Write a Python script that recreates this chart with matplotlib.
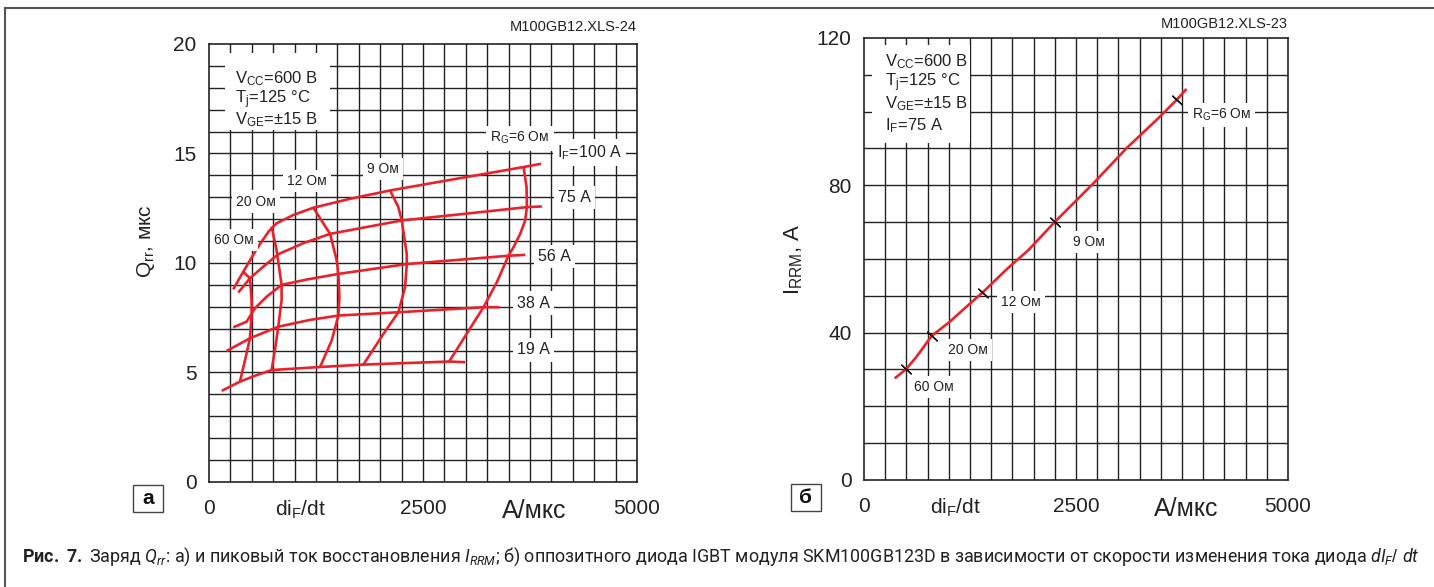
import matplotlib
matplotlib.use("Agg")
import matplotlib.pyplot as plt
import numpy as np
from matplotlib import font_manager
from matplotlib.patches import Rectangle
from matplotlib.lines import Line2D

# ---- data ----
# a) Qrr vs diF/dt, constant IF curves
if100_x = [284, 401, 576, 700, 790, 985, 1218, 1648, 2116, 2900, 3675, 3881]
if100_y = [8.80, 9.60, 10.75, 11.45, 11.81, 12.19, 12.52, 12.93, 13.31, 13.85, 14.38, 14.53]
if75_x = [343, 479, 634, 810, 1100, 1415, 2252, 3000, 3714, 3889]
if75_y = [8.65, 9.30, 9.83, 10.40, 10.90, 11.33, 11.94, 12.25, 12.55, 12.58]
if56_x = [284, 440, 537, 674, 849, 1150, 1512, 2311, 3499, 3694]
if56_y = [7.06, 7.32, 7.93, 8.46, 9.00, 9.25, 9.50, 9.95, 10.33, 10.37]
if38_x = [206, 479, 810, 1180, 1512, 2213, 3207, 3394]
if38_y = [5.98, 6.56, 7.09, 7.40, 7.60, 7.75, 7.98, 7.98]
if19_x = [148, 362, 537, 732, 1297, 1804, 2806, 2993]
if19_y = [4.16, 4.58, 4.85, 5.11, 5.25, 5.36, 5.50, 5.47]

# constant RG curves
rg6_x = [3675, 3710, 3714, 3694, 3636, 3558, 3499, 3363, 3207, 2806]
rg6_y = [14.38, 13.47, 12.55, 11.94, 11.33, 10.72, 10.33, 9.12, 7.98, 5.50]
rg9_x = [2116, 2213, 2252, 2311, 2311, 2291, 2213, 2038, 1804]
rg9_y = [13.31, 12.55, 11.94, 10.41, 9.95, 8.89, 7.75, 6.76, 5.36]
rg12_x = [1220, 1415, 1493, 1512, 1524, 1512, 1434, 1298]
rg12_y = [12.52, 11.33, 10.11, 9.50, 8.43, 7.60, 6.46, 5.25]
rg20_x = [732, 790, 849, 849, 810, 771, 732]
rg20_y = [11.66, 10.59, 9.00, 8.31, 7.09, 6.03, 5.11]
rg60_x = [401, 479, 498, 498, 479, 440, 362]
rg60_y = [9.60, 9.30, 8.31, 7.62, 6.56, 5.87, 4.58]

# b) IRRM vs diF/dt
irrm_x = [374, 495, 621, 798, 1014, 1211, 1399, 1682, 1938, 2252, 2704, 3097, 3470, 3687, 3793]
irrm_y = [27.8, 30.05, 33.5, 39.1, 43.0, 47.1, 50.9, 57.2, 62.4, 70.1, 80.5, 90.1, 98.2, 103.2, 105.9]
rg_mark_x = [495, 798, 1399, 2252, 3687]
rg_mark_y = [30.05, 39.1, 50.9, 70.1, 103.2]

x_ticks = [0, 1075, 2500, 3800, 5000]
x_ticklabels = ["0", "di$_\\mathrm{F}$/dt", "2500", "A/мкс", "5000"]

RED = "#e8212b"
GRID = "#222222"

names = {f.name for f in font_manager.fontManager.ttflist}
cap_font = "Liberation Sans Narrow" if "Liberation Sans Narrow" in names else "Roboto"

plt.rcParams["font.family"] = ["Liberation Sans", "DejaVu Sans"]
plt.rcParams["mathtext.fontset"] = "custom"
plt.rcParams["mathtext.rm"] = "Liberation Sans"
plt.rcParams["mathtext.it"] = cap_font + ":italic"
plt.rcParams["mathtext.bf"] = cap_font + ":bold"


def draw_grid(ax, xstep, xmax, ystep, ymax):
    for v in np.arange(xstep, xmax, xstep):
        ax.axvline(v, color=GRID, lw=1.0, zorder=1)
    for v in np.arange(ystep, ymax, ystep):
        ax.axhline(v, color=GRID, lw=1.0, zorder=1)


def setup_axes(ax, ymax, yticks):
    ax.set_xlim(0, 5000)
    ax.set_ylim(0, ymax)
    ax.set_xticks(x_ticks)
    ax.set_xticklabels(x_ticklabels)
    ax.set_yticks(yticks)
    ax.tick_params(length=0, labelsize=15, colors="#222222")
    ax.tick_params(axis="x", pad=12)
    ax.tick_params(axis="y", pad=9)
    ax.get_xticklabels()[3].set_fontsize(18)
    for s in ax.spines.values():
        s.set_linewidth(1.2)
        s.set_color(GRID)


def label(ax, x, y, s, size=10, ha="center"):
    ax.text(x, y, s, fontsize=size, ha=ha, va="center", zorder=4, color="#222222",
            bbox=dict(facecolor="white", edgecolor="none", pad=3))


fig = plt.figure(figsize=(14.34, 5.87), dpi=100)

# ---- panel a ----
ax1 = fig.add_axes([0.1457, 0.1789, 0.2985, 0.7462])
setup_axes(ax1, 20, [0, 5, 10, 15, 20])
draw_grid(ax1, 250, 5000, 1, 20)
ax1.add_patch(Rectangle((187, 16.07), 1226, 3.53, facecolor="white", edgecolor="none", zorder=1.5))

for xs, ys in [(if100_x, if100_y), (if75_x, if75_y), (if56_x, if56_y), (if38_x, if38_y),
               (if19_x, if19_y), (rg6_x, rg6_y), (rg9_x, rg9_y), (rg12_x, rg12_y),
               (rg20_x, rg20_y), (rg60_x, rg60_y)]:
    ax1.plot(xs, ys, color=RED, lw=1.9, zorder=2, solid_capstyle="butt")

for yy, s in zip([18.40, 17.44, 16.53],
                 ["V$_\\mathrm{CC}$=600 В", "T$_\\mathrm{j}$=125 °C", "V$_\\mathrm{GE}$=±15 В"]):
    ax1.text(304, yy, s, fontsize=12, ha="left", va="center", zorder=4, color="#222222")

label(ax1, 3633, 15.7, "R$_\\mathrm{G}$=6 Ом", 10)
label(ax1, 4065, 15.06, "I$_\\mathrm{F}$=100 А", 11.5, ha="left")
label(ax1, 4077, 13.0, "75 А", 11.5, ha="left")
label(ax1, 3843, 10.3, "56 А", 11.5, ha="left")
label(ax1, 3598, 8.17, "38 А", 11.5, ha="left")
label(ax1, 3598, 6.03, "19 А", 11.5, ha="left")
label(ax1, 2033, 14.3, "9 Ом", 10)
label(ax1, 1145, 13.75, "12 Ом", 10)
label(ax1, 549, 12.8, "20 Ом", 10)
label(ax1, 292, 11.05, "60 Ом", 10)

ax1.set_ylabel("Q$_\\mathrm{rr}$, мкс", fontsize=15, color="#222222")
ax1.yaxis.set_label_coords(-0.122, 0.55)
ax1.text(1.0, 1.039, "M100GB12.XLS-24", transform=ax1.transAxes, ha="right", va="center",
         fontsize=10.5, color="#222222")

# ---- panel b ----
ax2 = fig.add_axes([0.6025, 0.1823, 0.2957, 0.7530])
setup_axes(ax2, 120, [0, 40, 80, 120])
draw_grid(ax2, 250, 5000, 10, 120)
ax2.add_patch(Rectangle((94, 91.5), 1156, 26.6, facecolor="white", edgecolor="none", zorder=1.5))

ax2.plot(irrm_x, irrm_y, color=RED, lw=1.9, zorder=2)
ax2.plot(rg_mark_x, rg_mark_y, linestyle="none", marker=(2, 2, 47), markersize=10,
         markeredgewidth=0.9, markeredgecolor="#111111", zorder=3)

for yy, s in zip([113.5, 107.8, 102.1, 96.1],
                 ["V$_\\mathrm{CC}$=600 В", "T$_\\mathrm{j}$=125 °C", "V$_\\mathrm{GE}$=±15 В",
                  "I$_\\mathrm{F}$=75 А"]):
    ax2.text(248, yy, s, fontsize=12, ha="left", va="center", zorder=4, color="#222222")

label(ax2, 3867, 99.1, "R$_\\mathrm{G}$=6 Ом", 10, ha="left")
label(ax2, 2464, 64.7, "9 Ом", 10, ha="left")
label(ax2, 1615, 48.4, "12 Ом", 10, ha="left")
label(ax2, 990, 35.3, "20 Ом", 10, ha="left")
label(ax2, 590, 25.3, "60 Ом", 10, ha="left")

ax2.set_ylabel("I$_\\mathrm{RRM}$, A", fontsize=16, color="#222222")
ax2.yaxis.set_label_coords(-0.14, 0.5)
ax2.text(1.0, 1.032, "M100GB12.XLS-23", transform=ax2.transAxes, ha="right", va="center",
         fontsize=10.5, color="#222222")

# ---- panel letters ----
for (px, py), s in [((133, 485), "а"), ((791, 484), "б")]:
    fig.add_artist(Rectangle((px / 1434, (587 - py - 27) / 587), 30 / 1434, 27 / 587,
                             transform=fig.transFigure, fill=False, edgecolor="#444444", lw=1.0))
    fig.text((px + 15) / 1434, (587 - py - 13.5) / 587, s, fontsize=15, fontweight="bold",
             ha="center", va="center", color="#111111")

# ---- frame ----
fig.add_artist(Line2D([5 / 1434, 1], [0.9864, 0.9864], transform=fig.transFigure, color="#555555", lw=1.5))
fig.add_artist(Line2D([5 / 1434, 5 / 1434], [0, 0.9864], transform=fig.transFigure, color="#555555", lw=1.5))

# ---- caption ----
caption = ("$\\mathbf{Рис.\\ 7.}$ Заряд $\\mathit{Q}_{\\mathit{rr}}$: а) и пиковый ток восстановления "
           "$\\mathit{I}_{\\mathit{RRM}}$; б) оппозитного диода IGBT модуля SKM100GB123D "
           "в зависимости от скорости изменения тока диода $\\mathit{dI}_{\\mathit{F}}/\\ \\mathit{dt}$")
cap = fig.text(22 / 1434, 30 / 587, caption, fontsize=13, family=cap_font, ha="left", va="center",
               color="#222222")
fig.canvas.draw()
w = cap.get_window_extent(fig.canvas.get_renderer()).width
cap.set_fontsize(13 * 1390 / w)

fig.savefig("out.png", dpi=100)
